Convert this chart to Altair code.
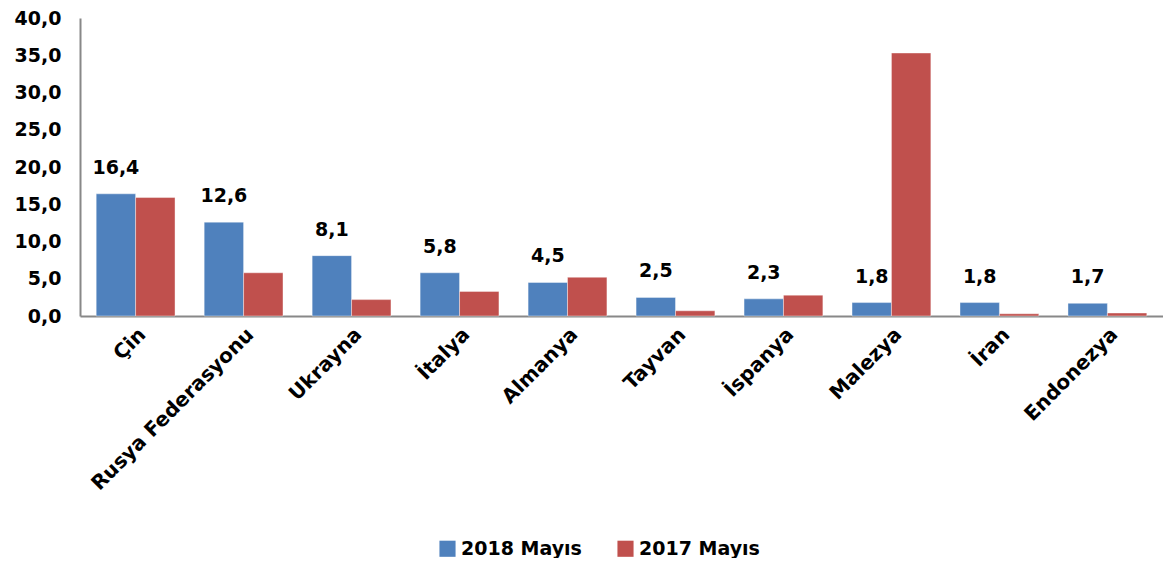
import altair as alt
import pandas as pd

countries = ["Çin", "Rusya Federasyonu", "Ukrayna", "İtalya", "Almanya",
             "Tayvan", "İspanya", "Malezya", "İran", "Endonezya"]
may2018 = [16.4, 12.6, 8.1, 5.8, 4.5, 2.5, 2.3, 1.8, 1.8, 1.7]
may2017 = [15.9, 5.8, 2.2, 3.3, 5.2, 0.7, 2.8, 35.3, 0.3, 0.4]
series = ["2018 Mayıs", "2017 Mayıs"]
colors = ["#4F81BD", "#C0504D"]
y_ticks = [0, 5, 10, 15, 20, 25, 30, 35, 40]

rows = []
for c, a, b in zip(countries, may2018, may2017):
    rows.append({"country": c, "series": series[0], "value": a})
    rows.append({"country": c, "series": series[1], "value": b})
df = pd.DataFrame(rows)

FONT = "DejaVu Sans"

x = alt.X("country:N", sort=countries, title=None,
          scale=alt.Scale(paddingInner=0.27, paddingOuter=0.15),
          axis=alt.Axis(labelAngle=-45, labelAlign="right", labelBaseline="top",
                        labelFontSize=20, labelFontWeight="bold", labelColor="black",
                        labelFont=FONT, ticks=False, labelPadding=8,
                        domainColor="#888888", domainWidth=2, labelLimit=400,
                        labelOverlap=False))
xoff = alt.XOffset("series:N", sort=series, scale=alt.Scale(domain=series))
y = alt.Y("value:Q", title=None,
          scale=alt.Scale(domain=[0, 40]),
          axis=alt.Axis(values=y_ticks, grid=False, ticks=False,
                        labelExpr="replace(format(datum.value, '.1f'), '.', ',')",
                        labelFontSize=19, labelFontWeight="bold", labelColor="black",
                        labelFont=FONT, labelPadding=19, labelOverlap=False,
                        domainColor="#888888", domainWidth=2))

bars = alt.Chart(df).mark_bar(stroke="white", strokeOpacity=0.4, strokeWidth=1).encode(
    x=x, xOffset=xoff, y=y,
    color=alt.Color("series:N", sort=series,
                    scale=alt.Scale(domain=series, range=colors),
                    legend=alt.Legend(title=None, orient="none", direction="horizontal",
                                      legendX=358, legendY=521,
                                      symbolType="square", symbolSize=260,
                                      symbolStrokeWidth=0,
                                      labelFontSize=19, labelFontWeight="bold",
                                      labelFont=FONT, labelColor="black",
                                      columnPadding=34, labelLimit=300)),
)

labels = alt.Chart(df).transform_filter(
    alt.datum.series == series[0]
).transform_calculate(
    label="replace(format(datum.value, '.1f'), '.', ',')"
).mark_text(dy=-16, baseline="bottom", fontSize=19, fontWeight="bold",
            font=FONT, color="black").encode(
    x=x, xOffset=xoff, y=y, text="label:N"
)

chart = alt.layer(bars, labels).properties(
    width=1083, height=298,
    autosize=alt.AutoSizeParams(type="none"),
    padding={"left": 72, "top": 10, "right": 0, "bottom": 242},
).configure_view(stroke=None)

chart.save("out.html", embed_options={"renderer": "svg", "actions": False})
